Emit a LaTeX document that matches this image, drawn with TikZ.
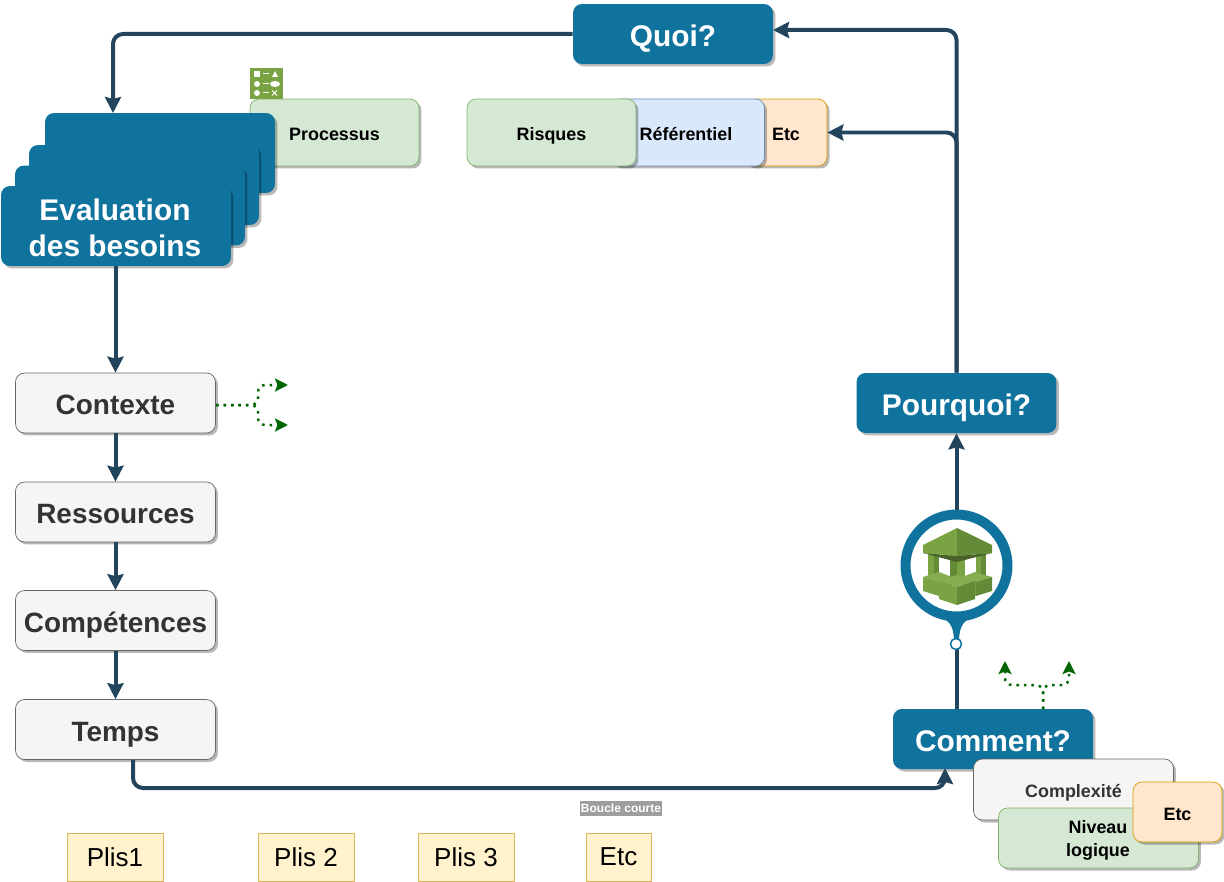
\documentclass[tikz,border=0pt]{standalone}
\usepackage{fontspec}
\setmainfont{Liberation Sans}
\usetikzlibrary{
    arrows.meta,
    shadows
}
\definecolor{stepblue}{HTML}{10739E}
\definecolor{linkblue}{HTML}{23445D}
\definecolor{awsgreen}{HTML}{7AA343}
\definecolor{awsdark}{HTML}{4B612C}
\definecolor{awsmid}{HTML}{648A38}
\definecolor{awslight}{HTML}{86AE50}
\definecolor{taggreen}{HTML}{D5E8D4}
\definecolor{taggreenline}{HTML}{82B366}
\definecolor{tagblue}{HTML}{DAE8FC}
\definecolor{tagblueline}{HTML}{6C8EBF}
\definecolor{tagorange}{HTML}{FFE6CC}
\definecolor{tagorangeline}{HTML}{D79B00}
\definecolor{plisfill}{HTML}{FFF2CC}
\definecolor{plisline}{HTML}{D6B656}

\begin{document}
\begin{tikzpicture}[
        x=0.02cm, y=-0.02cm,
        softshadow/.style={drop shadow={shadow xshift=0.05cm, shadow yshift=-0.05cm, fill=black, opacity=0.28}},
        bluebox/.style={fill=stepblue, rounded corners=0.18cm, minimum width=4cm, minimum height=1.2cm, align=center, text=white, inner sep=0pt, softshadow, text height=0.5cm, text depth=0pt, font=\fontsize{17}{20.5}\selectfont\bfseries},
        stackbox/.style={bluebox, minimum width=4.6cm, minimum height=1.6cm},
        greybox/.style={draw=black!60, fill=black!4, rounded corners=0.18cm, minimum width=4cm, minimum height=1.2cm, align=center, text=black!80, inner sep=0pt, softshadow, text height=0.47cm, text depth=0pt, font=\fontsize{15.9}{19}\selectfont\bfseries},
        tagbox/.style={rounded corners=0.18cm, minimum height=1.34cm, align=center, inner sep=0pt, softshadow, text height=0.325cm, text depth=0pt, font=\fontsize{10.2}{13.5}\selectfont\bfseries},
        greentag/.style={tagbox, draw=taggreenline, fill=taggreen},
        bluetag/.style={tagbox, draw=tagblueline, fill=tagblue},
        orangetag/.style={tagbox, draw=tagorangeline, fill=tagorange},
        plisbox/.style={draw=plisline, fill=plisfill, minimum height=0.96cm, inner sep=0pt, font=\fontsize{14.8}{17}\selectfont},
        arrow/.style={-{Stealth[length=0.32cm, width=0.32cm, inset=0.04cm]}, line width=0.08cm, draw=linkblue, rounded corners=0.2cm},
        dotarrow/.style={-{Stealth[length=0.26cm, width=0.26cm, inset=0.05cm]}, line width=0.05cm, draw=green!40!black, dash pattern=on 0.05cm off 0.1cm, rounded corners=0.14cm}
    ]
        \useasboundingbox (0,0) rectangle (1224,882);

        % Top boxes
        \node[bluebox] (quoi) at (673,34) {Quoi?};
        \node[greentag, minimum width=3.38cm] (processus) at (334.5,132.5) {Processus};
        \node[orangetag, minimum width=1.64cm] (etctop) at (786,132.5) {Etc};
        \node[bluetag, minimum width=3.06cm] (referentiel) at (688,132.5) {};
        \node[text height=0.325cm, text depth=0pt, inner sep=0pt, font=\fontsize{10.2}{13.5}\selectfont\bfseries] (referentieltext) at (686,132.5) {Référentiel};
        \node[greentag, minimum width=3.38cm] (risques) at (551.5,132.5) {Risques};

        % Process icon
        \node[fill=awsgreen, minimum width=0.66cm, minimum height=0.62cm, inner sep=0pt] (icon) at (266.5,83.5) {};
        \fill[white] (254,71) rectangle (260,77);
        \fill[white] (272,77) -- (275,71) -- (278,77) -- cycle;
        \fill[white] (257,84) circle (3);
        \fill[white] (275,84) ellipse (5 and 3);
        \fill[white] (257,93) circle (3);
        \draw[white, line width=0.02cm] (263,74) -- (269,74) (263,84) -- (269,84) (263,93) -- (269,93);
        \draw[white, line width=0.02cm] (272,90.5) -- (277,95.5) (272,95.5) -- (277,90.5);

        % Stack of needs
        \node[stackbox] (evalc) at (160,153) {};
        \node[stackbox] (evalb) at (144,185) {};
        \node[stackbox] (evala) at (130,205.5) {};
        \node[stackbox] (evaluation) at (116,226) {};
        \node[align=center, text=white, inner sep=0pt, font=\fontsize{17}{20.5}\selectfont\bfseries] (evaluationtext) at (115,228) {Evaluation\\des besoins};

        % Left column
        \node[greybox] (contexte) at (115.5,403) {Contexte};
        \node[greybox] (ressources) at (115.5,512) {Ressources};
        \node[greybox] (competences) at (115.5,620.5) {Compétences};
        \node[greybox] (temps) at (115.5,729.5) {Temps};

        % Right column
        \node[bluebox] (pourquoi) at (956.5,403) {Pourquoi?};
        \node[bluebox] (comment) at (993,739) {Comment?};

        % Free ends
        \coordinate (evalin) at (113,113);
        \coordinate (quoiin) at (773,30);
        \coordinate (tempsout) at (133,760);
        \coordinate (commentin) at (945,768);
        \coordinate (ctxstart) at (216,405);
        \coordinate (ctxsplit) at (258,405);
        \coordinate (ctxup) at (288,385);
        \coordinate (ctxdown) at (288,425);
        \coordinate (comstart) at (1043,709);
        \coordinate (comsplit) at (1043,685);
        \coordinate (comleft) at (1005,661);
        \coordinate (comright) at (1069,661);

        % Arrows
        \draw[arrow] (quoi.west) -| (evalin);
        \draw[arrow] (contexte.north |- evaluation.south) -- (contexte.north);
        \draw[arrow] (contexte.south) -- (ressources.north);
        \draw[arrow] (ressources.south) -- (competences.north);
        \draw[arrow] (competences.south) -- (temps.north);
        \draw[arrow] (tempsout) -- ++(0,28) -| (commentin);
        \draw[arrow] (pourquoi.south |- comment.north) -- (pourquoi.south);
        \draw[arrow] (pourquoi.north) |- (quoiin);
        \draw[arrow] (pourquoi.north) |- (etctop.east);

        % Dotted arrows
        \draw[dotarrow] (ctxstart) -- (ctxsplit) |- (ctxup);
        \draw[dotarrow] (ctxstart) -- (ctxsplit) |- (ctxdown);
        \draw[dotarrow] (comstart) -- (comsplit) -| (comleft);
        \draw[dotarrow] (comstart) -- (comsplit) -| (comright);

        % Pin on the arrow
        \fill[stepblue] (935,615) .. controls (948,619) and (953.5,624) .. (954,640) -- (959,640) .. controls (959.5,624) and (965,619) .. (978,615) -- cycle;
        \node[circle, draw=stepblue, fill=white, line width=0.2cm, minimum size=2.04cm, inner sep=0pt] (pin) at (956.5,565.5) {};
        \node[circle, draw=stepblue, fill=white, line width=0.03cm, minimum size=0.22cm, inner sep=0pt] (pindot) at (956,644) {};

        % Building icon
        \fill[awsgreen] (928,553) rectangle (934,578);
        \fill[awsmid] (934,553) rectangle (939,578);
        \fill[awsgreen] (976,553) rectangle (981,578);
        \fill[awsmid] (981,553) rectangle (986,578);
        \fill[awsmid] (950,553) rectangle (957,582);
        \fill[awsgreen] (957,553) rectangle (965,582);
        \fill[awsdark] (923,553) -- (957,556) -- (992,553) -- (957,562) -- cycle;
        \fill[awsgreen] (923,545) -- (957,528) -- (957,556) -- (923,553) -- cycle;
        \fill[awsmid] (957,528) -- (992,545) -- (992,553) -- (957,556) -- cycle;
        \fill[awslight] (923,577) -- (939,572) -- (952,577) -- (939,582) -- cycle;
        \fill[awsgreen] (923,577) -- (939,582) -- (939,596) -- (923,591) -- cycle;
        \fill[awsmid] (939,582) -- (952,577) -- (952,590) -- (939,596) -- cycle;
        \fill[awslight] (975,572) -- (992,577) -- (976,582) -- (962,577) -- cycle;
        \fill[awsgreen] (962,577) -- (976,582) -- (976,596) -- (962,590) -- cycle;
        \fill[awsmid] (976,582) -- (992,577) -- (992,591) -- (976,596) -- cycle;
        \fill[awslight] (939,581) -- (957,575) -- (975,581) -- (957,587) -- cycle;
        \fill[awsgreen] (939,581) -- (957,587) -- (957,605) -- (939,599) -- cycle;
        \fill[awsmid] (957,587) -- (975,581) -- (975,599) -- (957,605) -- cycle;

        % Boxes under Comment
        \node[tagbox, draw=black!60, fill=black!4, text=black!80, minimum width=4cm, minimum height=1.22cm] (complexite) at (1073.5,789.5) {Complexité};
        \node[greentag, minimum width=4cm, minimum height=1.2cm] (niveau) at (1098.5,838) {};
        \node[align=center, inner sep=0pt, font=\fontsize{10.2}{13}\selectfont\bfseries] (niveautext) at (1098,840.5) {Niveau\\logique};
        \node[orangetag, minimum width=1.78cm, minimum height=1.2cm] (etcright) at (1177.5,812) {Etc};

        % Bottom row
        \node[plisbox, minimum width=1.92cm] (plisa) at (115,857) {Plis1};
        \node[plisbox, minimum width=1.92cm] (plisb) at (306,857) {Plis 2};
        \node[plisbox, minimum width=1.92cm] (plisc) at (466,857) {Plis 3};
        \node[plisbox, minimum width=1.3cm] (plisd) at (618.5,857) {Etc};
        \node[fill=black!38, text=white, inner xsep=0.02cm, inner ysep=0.06cm, font=\fontsize{6.83}{8}\selectfont\bfseries] (boucle) at (621,808.5) {Boucle courte};
    \end{tikzpicture}
\end{document}
